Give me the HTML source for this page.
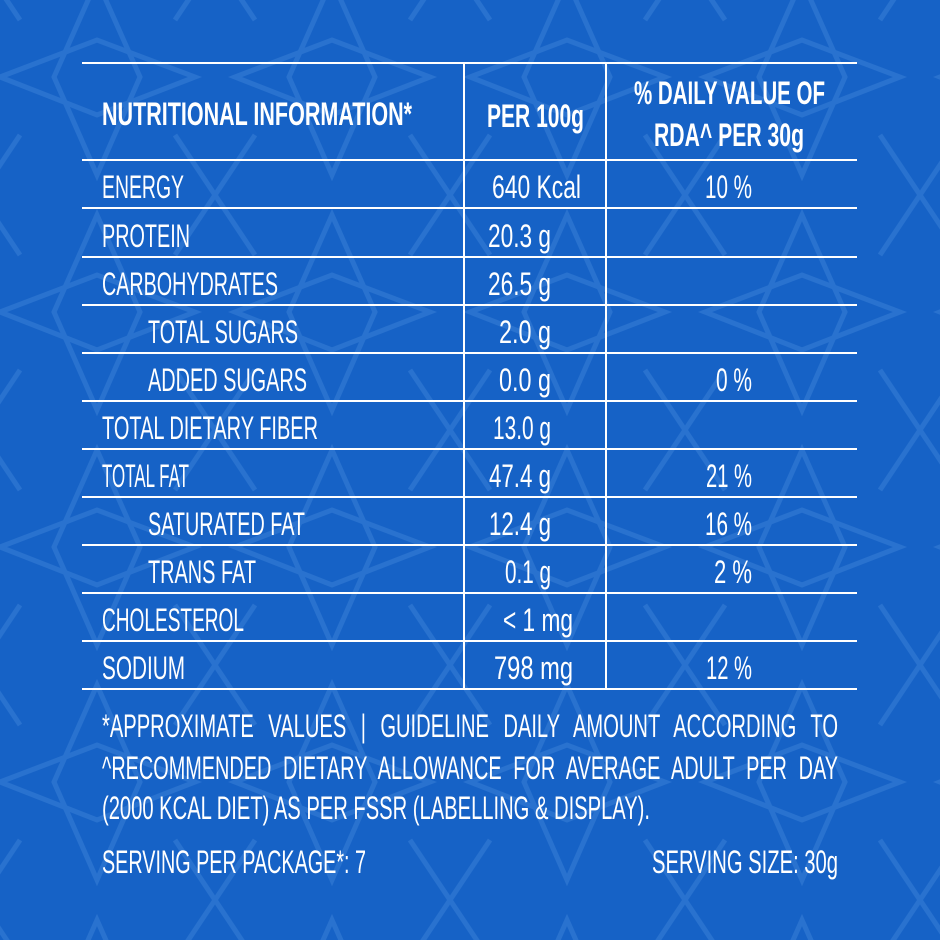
<!DOCTYPE html>
<html><head><meta charset="utf-8"><style>
html,body{margin:0;padding:0;background:#1662c6;}
svg{display:block}
text{font-family:"Liberation Sans",sans-serif;fill:#fff;font-size:32px}
.b{font-weight:bold}
</style></head><body>
<svg width="940" height="940" viewBox="0 0 940 940" xmlns="http://www.w3.org/2000/svg">
<defs>
<pattern id="p" width="235" height="235" patternUnits="userSpaceOnUse" x="-20" y="-40">
<g fill="none" stroke="#3f84d8" stroke-width="5" opacity="0.45">
<path d="M117 20 L160 117 L117 215 L74 117 Z"/>
<path d="M20 117 L117 80 L215 117 L117 155 Z"/>
<path d="M0 0 L40 60 M235 0 L195 60 M0 235 L40 175 M235 235 L195 175"/>
</g>
</pattern>
</defs>
<rect width="940" height="940" fill="#1662c6"/>
<rect width="940" height="940" fill="url(#p)"/>
<g stroke="#fff" stroke-width="2">
<line x1="82" x2="857" y1="63" y2="63"/>
<line x1="82" x2="857" y1="160" y2="160"/>
<line x1="82" x2="857" y1="208" y2="208"/>
<line x1="82" x2="857" y1="257" y2="257"/>
<line x1="82" x2="857" y1="305" y2="305"/>
<line x1="82" x2="857" y1="353" y2="353"/>
<line x1="82" x2="857" y1="401" y2="401"/>
<line x1="82" x2="857" y1="449" y2="449"/>
<line x1="82" x2="857" y1="497" y2="497"/>
<line x1="82" x2="857" y1="545" y2="545"/>
<line x1="82" x2="857" y1="593" y2="593"/>
<line x1="82" x2="857" y1="641" y2="641"/>
<line x1="82" x2="857" y1="689" y2="689"/>
<line x1="464" x2="464" y1="63" y2="689"/>
<line x1="606" x2="606" y1="63" y2="689"/>
</g>
<g>
<text class="b" x="102" y="125" textLength="310" lengthAdjust="spacingAndGlyphs">NUTRITIONAL INFORMATION*</text>
<text class="b" x="487" y="127" textLength="97" lengthAdjust="spacingAndGlyphs">PER 100g</text>
<text class="b" x="634" y="104" textLength="191" lengthAdjust="spacingAndGlyphs">% DAILY VALUE OF</text>
<text class="b" x="654" y="146" textLength="150" lengthAdjust="spacingAndGlyphs">RDA^ PER 30g</text>

<text x="102" y="198" textLength="82" lengthAdjust="spacingAndGlyphs">ENERGY</text>
<text x="492" y="198" textLength="89" lengthAdjust="spacingAndGlyphs">640 Kcal</text>
<text x="705" y="198" textLength="47" lengthAdjust="spacingAndGlyphs">10 %</text>

<text x="102" y="247" textLength="88" lengthAdjust="spacingAndGlyphs">PROTEIN</text>
<text x="488" y="247" textLength="63" lengthAdjust="spacingAndGlyphs">20.3 g</text>

<text x="102" y="295" textLength="176" lengthAdjust="spacingAndGlyphs">CARBOHYDRATES</text>
<text x="488" y="295" textLength="63" lengthAdjust="spacingAndGlyphs">26.5 g</text>

<text x="148" y="343" textLength="150" lengthAdjust="spacingAndGlyphs">TOTAL SUGARS</text>
<text x="499" y="343" textLength="52" lengthAdjust="spacingAndGlyphs">2.0 g</text>

<text x="148" y="391" textLength="159" lengthAdjust="spacingAndGlyphs">ADDED SUGARS</text>
<text x="499" y="391" textLength="52" lengthAdjust="spacingAndGlyphs">0.0 g</text>
<text x="716" y="391" textLength="36" lengthAdjust="spacingAndGlyphs">0 %</text>

<text x="102" y="439" textLength="216" lengthAdjust="spacingAndGlyphs">TOTAL DIETARY FIBER</text>
<text x="493" y="439" textLength="58" lengthAdjust="spacingAndGlyphs">13.0 g</text>

<text x="102" y="487" textLength="87" lengthAdjust="spacingAndGlyphs">TOTAL FAT</text>
<text x="489" y="487" textLength="62" lengthAdjust="spacingAndGlyphs">47.4 g</text>
<text x="706" y="487" textLength="46" lengthAdjust="spacingAndGlyphs">21 %</text>

<text x="148" y="535" textLength="157" lengthAdjust="spacingAndGlyphs">SATURATED FAT</text>
<text x="489" y="535" textLength="62" lengthAdjust="spacingAndGlyphs">12.4 g</text>
<text x="705" y="535" textLength="47" lengthAdjust="spacingAndGlyphs">16 %</text>

<text x="148" y="583" textLength="108" lengthAdjust="spacingAndGlyphs">TRANS FAT</text>
<text x="505" y="583" textLength="46" lengthAdjust="spacingAndGlyphs">0.1 g</text>
<text x="714" y="583" textLength="38" lengthAdjust="spacingAndGlyphs">2 %</text>

<text x="102" y="631" textLength="142" lengthAdjust="spacingAndGlyphs">CHOLESTEROL</text>
<text x="503" y="631" textLength="70" lengthAdjust="spacingAndGlyphs">&lt; 1 mg</text>

<text x="102" y="679" textLength="83" lengthAdjust="spacingAndGlyphs">SODIUM</text>
<text x="494" y="679" textLength="79" lengthAdjust="spacingAndGlyphs">798 mg</text>
<text x="706" y="679" textLength="46" lengthAdjust="spacingAndGlyphs">12 %</text>

<text x="102" y="737" textLength="736" lengthAdjust="spacingAndGlyphs" word-spacing="14">*APPROXIMATE VALUES | GUIDELINE DAILY AMOUNT ACCORDING TO</text>
<text x="102" y="779" textLength="736" lengthAdjust="spacingAndGlyphs" word-spacing="10">^RECOMMENDED DIETARY ALLOWANCE FOR AVERAGE ADULT PER DAY</text>
<text x="102" y="819" textLength="548" lengthAdjust="spacingAndGlyphs">(2000 KCAL DIET) AS PER FSSR (LABELLING &amp; DISPLAY).</text>

<text x="102" y="873" textLength="264" lengthAdjust="spacingAndGlyphs">SERVING PER PACKAGE*: 7</text>
<text x="652" y="873" textLength="186" lengthAdjust="spacingAndGlyphs">SERVING SIZE: 30g</text>
</g>
</svg>
</body></html>
